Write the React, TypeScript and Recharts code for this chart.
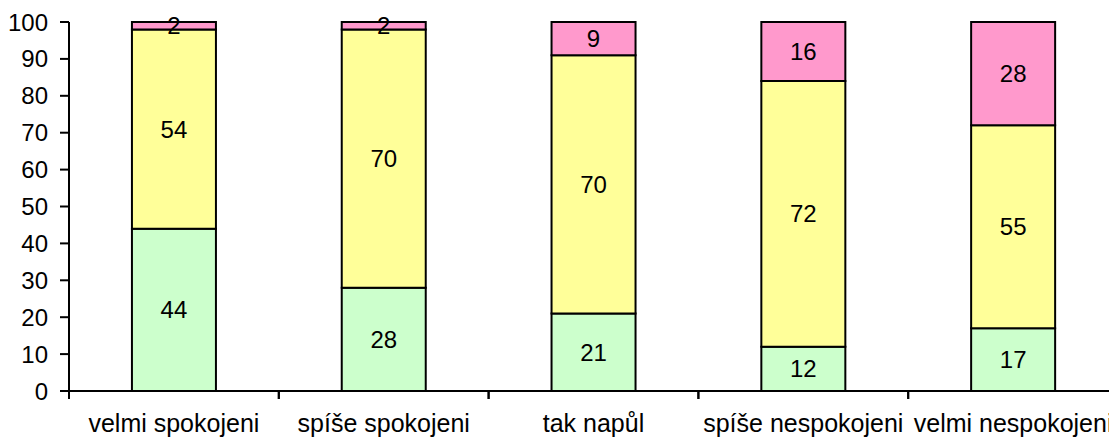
import React from "react";
import { BarChart, Bar, XAxis, YAxis, LabelList } from "recharts";

const categories = ["velmi spokojeni", "spíše spokojeni", "tak napůl", "spíše nespokojeni", "velmi nespokojeni"];
const greenValues = [44, 28, 21, 12, 17];
const yellowValues = [54, 70, 70, 72, 55];
const pinkValues = [2, 2, 9, 16, 28];
const yTicks = [0, 10, 20, 30, 40, 50, 60, 70, 80, 90, 100];

const data = categories.map((name, i) => ({
  name,
  green: greenValues[i],
  yellow: yellowValues[i],
  pink: pinkValues[i],
}));

const FONT = "'Liberation Sans', Arial, sans-serif";
const TICK_SIZE = 8;
const TICK_MARGIN = 15;
const NUM_FONT = 24;

const XTick = (props: any) => {
  const { x, y, payload } = props;
  const axisY = y - TICK_SIZE - TICK_MARGIN;
  const off = payload && payload.offset ? payload.offset : 0;
  return (
    <g>
      <line x1={x - off} x2={x - off} y1={axisY} y2={axisY + TICK_SIZE} stroke="#000" strokeWidth={2} />
      <line x1={x + off} x2={x + off} y1={axisY} y2={axisY + TICK_SIZE} stroke="#000" strokeWidth={2} />
      <text x={x} y={y} dy="0.71em" textAnchor="middle" fill="#000" fontSize={25} fontFamily={FONT}>
        {payload.value}
      </text>
    </g>
  );
};

export default function App() {
  return (
    <div style={{ position: "absolute", left: 0, top: 0, width: 1109, height: 441, overflow: "hidden", background: "#fff" }}>
      <BarChart
        width={1120}
        height={441}
        data={data}
        margin={{ top: 22, right: 2, left: 0, bottom: 0 }}
        barCategoryGap="30%"
      >
        <XAxis
          dataKey="name"
          height={50}
          interval={0}
          tickLine={false}
          tickSize={TICK_SIZE}
          tickMargin={TICK_MARGIN}
          axisLine={{ stroke: "#000", strokeWidth: 2 }}
          tick={<XTick />}
        />
        <YAxis
          width={69}
          domain={[0, 100]}
          ticks={yTicks}
          interval={0}
          tickSize={9}
          tickMargin={12}
          axisLine={{ stroke: "#000", strokeWidth: 2 }}
          tickLine={{ stroke: "#000", strokeWidth: 2 }}
          tick={{ fill: "#000", fontSize: NUM_FONT, fontFamily: FONT }}
        />
        <Bar dataKey="green" stackId="a" fill="#CCFFCC" stroke="#000" strokeWidth={2} isAnimationActive={false}>
          <LabelList dataKey="green" position="center" fill="#000" fontSize={NUM_FONT} fontFamily={FONT} />
        </Bar>
        <Bar dataKey="yellow" stackId="a" fill="#FFFF99" stroke="#000" strokeWidth={2} isAnimationActive={false}>
          <LabelList dataKey="yellow" position="center" fill="#000" fontSize={NUM_FONT} fontFamily={FONT} />
        </Bar>
        <Bar dataKey="pink" stackId="a" fill="#FF99CC" stroke="#000" strokeWidth={2} isAnimationActive={false}>
          <LabelList dataKey="pink" position="center" fill="#000" fontSize={NUM_FONT} fontFamily={FONT} />
        </Bar>
      </BarChart>
    </div>
  );
}
